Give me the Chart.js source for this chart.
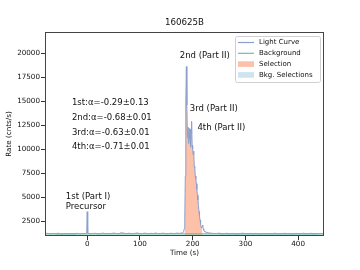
<!DOCTYPE html>
<html>
<head>
<meta charset="utf-8">
<script src="https://cdn.jsdelivr.net/npm/chart.js@4/dist/chart.umd.min.js"></script>
<style>
  body { margin: 0; background: #fff; }
  canvas { display: block; }
</style>
</head>
<body>
<canvas id="grb-canvas" width="360" height="270"></canvas>
<script>
// light curve of GRB 160625B (time in s, rate in cnts/s)
const lcTimes = [
  -80, -75, -70, -65, -60, -55, -50, -45, -40, -35, -30, -25, -20, -15, -10, -5,
  -1, 0, 1,
  5, 10, 15, 20, 25, 30, 35, 40, 45, 50, 55, 60, 65, 70, 75, 80, 85, 90,
  95, 100, 105, 110, 115, 120, 125, 130, 135, 140, 145, 150, 155, 160, 165, 170, 175, 180,
  181, 182, 183, 184, 185, 186, 187, 188, 189, 190, 191, 192, 193, 194, 195, 196,
  197, 198, 199, 200, 201, 202, 203, 204, 205, 206, 207, 208, 209, 210, 211, 212,
  213, 214, 215, 216, 217, 218, 219, 220, 221, 222, 223, 224, 225, 226, 227, 228,
  229, 230, 231, 232,
  235, 240, 245, 250, 255, 260, 265, 270, 275, 280, 285, 290, 295, 300, 305, 310,
  315, 320, 325, 330, 335, 340, 345, 350, 355, 360, 365, 370, 375, 380, 385, 390,
  395, 400, 405, 410, 415, 420, 425, 430, 435, 440, 445, 450
];
const lcRates = [
  1190, 1230, 1170, 1210, 1180, 1240, 1160, 1200, 1220, 1170, 1210, 1190, 1230, 1180, 1200, 1210,
  1220, 3480, 1240,
  1180, 1210, 1230, 1170, 1200, 1250, 1190, 1220, 1180, 1260, 1210, 1190, 1300, 1230, 1200, 1240, 1180, 1220,
  1270, 1190, 1210, 1250, 1180, 1230, 1200, 1260, 1190, 1220, 1240, 1180, 1210, 1230, 1200, 1250, 1220, 1280,
  1300, 1350, 1450, 1700, 2600, 7200, 14800, 18600, 14600, 11200, 12300, 10600, 12200, 11000, 12100, 10200,
  11600, 12900, 10400, 10000, 9400, 9800, 8200, 8000, 7200, 6900, 6400, 5800, 5200, 4700, 4100, 3500,
  3000, 2600, 2200, 1900, 1800, 2000, 2100, 1700, 1550, 1450, 1400, 1380, 1350, 1340, 1300, 1320,
  1290, 1270, 1280, 1250,
  1240, 1220, 1200, 1250, 1190, 1210, 1230, 1180, 1220, 1200, 1170, 1210, 1240, 1190, 1200, 1220,
  1180, 1230, 1160, 1200, 1210, 1190, 1220, 1170, 1240, 1200, 1180, 1210, 1230, 1190, 1200, 1170,
  1220, 1210, 1180, 1240, 1190, 1200, 1230, 1170, 1210, 1200, 1190, 1220
];

// fitted background
const bkgTimes = [-80, 450];
const bkgRates = [1180, 1180];

// selected intervals
const selRange = [185, 218];
const bkgRanges = [[-60, -20], [250, 440]];

const xTicks = [0, 100, 200, 300, 400];
const yTicks = [2500, 5000, 7500, 10000, 12500, 15000, 17500, 20000];

const titleText = "160625B";
const xLabel = "Time (s)";
const yLabel = "Rate (cnts/s)";

// text annotations, in data coordinates
const notes = [
  { text: "1st:α=-0.29±0.13", x: -29, y: 14800 },
  { text: "2nd:α=-0.68±0.01", x: -29, y: 13250 },
  { text: "3rd:α=-0.63±0.01", x: -29, y: 11750 },
  { text: "4th:α=-0.71±0.01", x: -29, y: 10250 },
  { text: "2nd (Part II)", x: 175.5, y: 19750 },
  { text: "3rd (Part II)", x: 194.5, y: 14150 },
  { text: "4th (Part II)", x: 209, y: 12200 },
  { text: "1st (Part I)", x: -40.5, y: 5050 },
  { text: "Precursor", x: -40.5, y: 4000 }
];

const legendItems = [
  { label: "Light Curve", kind: "line", color: "#8da0cb" },
  { label: "Background", kind: "line", color: "#66c2a5" },
  { label: "Selection", kind: "patch", color: "rgba(252,141,98,0.55)" },
  { label: "Bkg. Selections", kind: "patch", color: "rgba(166,206,227,0.55)" }
];

function pointsBetween(lo, hi) {
  let pts = [];
  for (let i = 0; i < lcTimes.length; i++) {
    if (lcTimes[i] >= lo && lcTimes[i] <= hi) pts.push({ x: lcTimes[i], y: lcRates[i] });
  }
  return pts;
}

const lcPoints = lcTimes.map((t, i) => ({ x: t, y: lcRates[i] }));
const bkgPoints = bkgTimes.map((t, i) => ({ x: t, y: bkgRates[i] }));

let datasets = [
  {
    label: "Background", data: bkgPoints, borderColor: "#66c2a5", borderWidth: 1.2,
    pointRadius: 0, fill: false, order: 0
  },
  {
    label: "Light Curve", data: lcPoints, borderColor: "#8da0cb", borderWidth: 1,
    pointRadius: 0, fill: false, order: 1
  },
  {
    label: "Selection", data: pointsBetween(selRange[0], selRange[1]),
    borderWidth: 0, borderColor: "rgba(0,0,0,0)", backgroundColor: "rgba(252,141,98,0.55)",
    pointRadius: 0, fill: "start", order: 3
  }
];
bkgRanges.forEach(function (r) {
  datasets.push({
    label: "Bkg. Selections", data: pointsBetween(r[0], r[1]),
    borderWidth: 0, borderColor: "rgba(0,0,0,0)", backgroundColor: "rgba(166,206,227,0.55)",
    pointRadius: 0, fill: "start", order: 4
  });
});

const decor = {
  id: "decor",
  afterDraw(chart) {
    const c = chart.ctx;
    const a = chart.chartArea;
    const xs = chart.scales.x;
    const ys = chart.scales.y;
    c.save();

    // frame
    c.strokeStyle = "#444";
    c.lineWidth = 1;
    c.strokeRect(a.left + 0.5, a.top + 0.5, a.right - a.left - 1, a.bottom - a.top - 1);

    c.fillStyle = "#111";
    // title
    c.font = "8.7px 'DejaVu Sans'";
    c.textAlign = "center";
    c.textBaseline = "middle";
    c.fillText(titleText, (a.left + a.right) / 2, 23);

    // axis titles
    c.font = "7.2px 'DejaVu Sans'";
    c.fillText(xLabel, (a.left + a.right) / 2, 253.5);
    c.save();
    c.translate(9.5, (a.top + a.bottom) / 2);
    c.rotate(-Math.PI / 2);
    c.fillText(yLabel, 0, 0);
    c.restore();

    // annotations
    c.font = "8.5px 'DejaVu Sans'";
    c.textAlign = "left";
    notes.forEach(function (n) {
      c.fillText(n.text, xs.getPixelForValue(n.x), ys.getPixelForValue(n.y));
    });

    // legend
    const bx = a.right - 89, by = a.top + 4, bw = 85, bh = 46;
    c.fillStyle = "rgba(255,255,255,0.85)";
    c.strokeStyle = "#d0d0d0";
    c.beginPath();
    c.roundRect(bx + 0.5, by + 0.5, bw, bh, 2);
    c.fill();
    c.stroke();
    c.font = "7px 'DejaVu Sans'";
    legendItems.forEach(function (it, i) {
      const yy = by + 6.5 + i * 10.8;
      if (it.kind === "line") {
        c.strokeStyle = it.color;
        c.lineWidth = 1.2;
        c.beginPath();
        c.moveTo(bx + 3, yy);
        c.lineTo(bx + 19, yy);
        c.stroke();
      } else {
        c.fillStyle = it.color;
        c.fillRect(bx + 3, yy - 2.8, 16, 5.6);
      }
      c.fillStyle = "#111";
      c.fillText(it.label, bx + 24, yy);
    });
    c.restore();
  }
};

new Chart(document.getElementById("grb-canvas").getContext("2d"), {
  type: "line",
  data: { datasets: datasets },
  options: {
    responsive: false,
    animation: false,
    devicePixelRatio: 1,
    layout: { padding: { top: 32, right: 36, left: 0, bottom: 0 } },
    plugins: {
      legend: { display: false },
      tooltip: { enabled: false }
    },
    scales: {
      x: {
        type: "linear",
        min: -80,
        max: 449,
        afterBuildTicks: function (scale) { scale.ticks = xTicks.map(v => ({ value: v })); },
        afterFit: function (scale) { scale.height = 34; },
        grid: { drawOnChartArea: false, tickLength: 4, color: "#333" },
        border: { display: false },
        ticks: { padding: 0, color: "#111", font: { family: "DejaVu Sans", size: 7.2 }, maxRotation: 0, callback: v => String(v) }
      },
      y: {
        min: 950,
        max: 22200,
        afterBuildTicks: function (scale) { scale.ticks = yTicks.map(v => ({ value: v })); },
        afterFit: function (scale) { scale.width = 45; },
        grid: { drawOnChartArea: false, tickLength: 4, color: "#333" },
        border: { display: false },
        ticks: { padding: 1, color: "#111", font: { family: "DejaVu Sans", size: 7.2 }, callback: v => String(v) }
      }
    }
  },
  plugins: [decor]
});
</script>
</body>
</html>
